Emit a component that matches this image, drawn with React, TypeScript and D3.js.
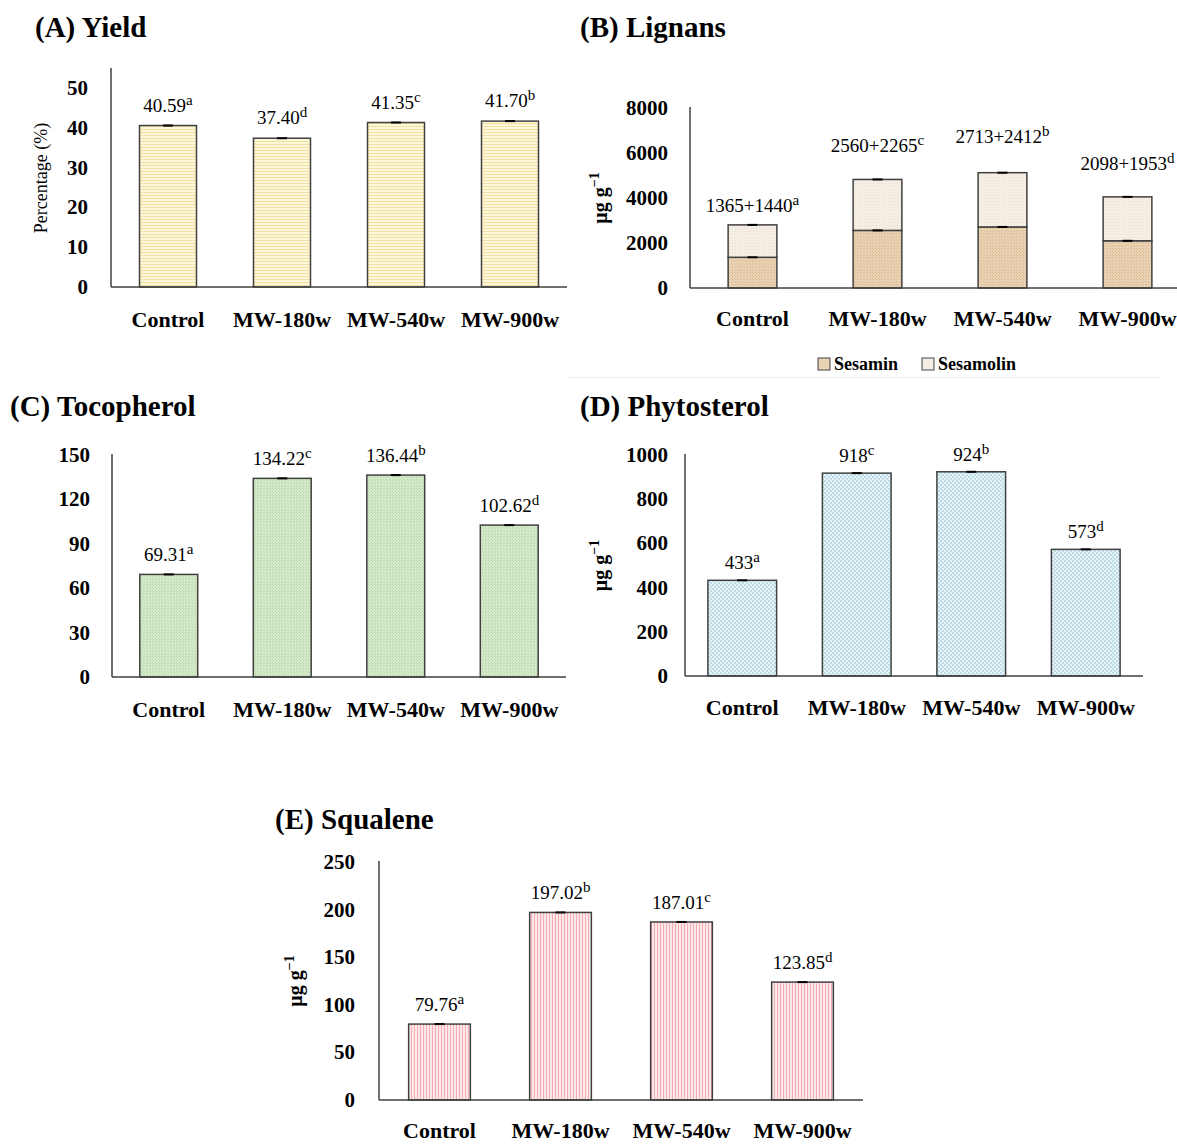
import React from 'react'
import * as d3 from 'd3'

const CATEGORIES = ['Control', 'MW-180w', 'MW-540w', 'MW-900w']

const YIELD_VALUES = [40.59, 37.4, 41.35, 41.7]
const YIELD_LETTERS = ['a', 'd', 'c', 'b']
const YIELD_TICKS = [0, 10, 20, 30, 40, 50]

const SESAMIN_VALUES = [1365, 2560, 2713, 2098]
const SESAMOLIN_VALUES = [1440, 2265, 2412, 1953]
const LIGNAN_LETTERS = ['a', 'c', 'b', 'd']
const LIGNAN_TICKS = [0, 2000, 4000, 6000, 8000]
const LIGNAN_SERIES = ['Sesamin', 'Sesamolin']

const TOCOPHEROL_VALUES = [69.31, 134.22, 136.44, 102.62]
const TOCOPHEROL_LETTERS = ['a', 'c', 'b', 'd']
const TOCOPHEROL_TICKS = [0, 30, 60, 90, 120, 150]

const PHYTOSTEROL_VALUES = [433, 918, 924, 573]
const PHYTOSTEROL_LETTERS = ['a', 'c', 'b', 'd']
const PHYTOSTEROL_TICKS = [0, 200, 400, 600, 800, 1000]

const SQUALENE_VALUES = [79.76, 197.02, 187.01, 123.85]
const SQUALENE_LETTERS = ['a', 'b', 'c', 'd']
const SQUALENE_TICKS = [0, 50, 100, 150, 200, 250]

const SERIF = '"Liberation Serif", "Times New Roman", serif'
const AXIS = '#404040'

const fmt2 = (v) => v.toFixed(2)
const fmt0 = (v) => String(v)

// one panel: title, y axis, bars (stacked if several series)
function Panel({ title, titleX, titleY, x0, x1, yTop, yBase, yMax, ticks, series, fills, letters,
  format, barFrac, yLabel, yLabelX, yLabelBold, tickRight, catY, labelLift = () => 13 }) {
  const xScale = d3.scaleBand()
    .domain(CATEGORIES)
    .range([x0, x1])
    .paddingInner(1 - barFrac)
    .paddingOuter((1 - barFrac) / 2)
  const yScale = d3.scaleLinear().domain([0, yMax]).range([yBase, yTop])
  const stack = d3.stack().keys(series.map((_, i) => String(i)))
  const rows = CATEGORIES.map((c, j) => {
    const r = {}
    series.forEach((s, i) => { r[String(i)] = s[j] })
    return r
  })
  const layers = stack(rows)
  const bw = xScale.bandwidth()
  const yMid = (yTop + yBase) / 2

  return (
    <g>
      <text x={titleX} y={titleY} fontFamily={SERIF} fontWeight="bold" fontSize={29}>{title}</text>
      {yLabel === 'pct' ? (
        <text transform={`translate(${yLabelX},${yMid}) rotate(-90)`} textAnchor="middle"
          fontFamily={SERIF} fontSize={18}>Percentage (%)</text>
      ) : yLabel === 'ug' ? (
        <text transform={`translate(${yLabelX},${yMid}) rotate(-90)`} textAnchor="middle"
          fontFamily={SERIF} fontSize={20} fontWeight={yLabelBold ? 'bold' : 'normal'}>
          μg g<tspan dy={-8} fontSize={14}>−1</tspan>
        </text>
      ) : null}
      {ticks.map((t) => (
        <text key={t} x={tickRight} y={yScale(t) + 7} textAnchor="end" fontFamily={SERIF}
          fontWeight="bold" fontSize={21}>{t}</text>
      ))}
      {layers.map((layer, li) => layer.map((d, j) => (
        <rect key={`${li}-${j}`} x={xScale(CATEGORIES[j])} y={yScale(d[1])} width={bw}
          height={yScale(d[0]) - yScale(d[1])} fill={fills[li]} stroke={AXIS} strokeWidth={1.5} />
      )))}
      {layers.map((layer, li) => layer.map((d, j) => (
        <line key={`e${li}-${j}`} x1={xScale(CATEGORIES[j]) + bw / 2 - 5} x2={xScale(CATEGORIES[j]) + bw / 2 + 5}
          y1={yScale(d[1])} y2={yScale(d[1])} stroke="#000" strokeWidth={2} />
      )))}
      {CATEGORIES.map((c, j) => {
        const total = d3.sum(series, (s) => s[j])
        const text = series.map((s) => format(s[j])).join('+')
        return (
          <text key={c} x={xScale(c) + bw / 2} y={yScale(total) - labelLift(j)} textAnchor="middle"
            fontFamily={SERIF} fontSize={19}>
            {text}<tspan dy={-7} fontSize={15}>{letters[j]}</tspan>
          </text>
        )
      })}
      <line x1={x0} x2={x0} y1={yTop - 1} y2={yBase} stroke={AXIS} strokeWidth={1.5} />
      <line x1={x0} x2={x1} y1={yBase} y2={yBase} stroke={AXIS} strokeWidth={1.5} />
      {CATEGORIES.map((c) => (
        <text key={c} x={xScale(c) + bw / 2} y={catY} textAnchor="middle" fontFamily={SERIF}
          fontWeight="bold" fontSize={22}>{c}</text>
      ))}
    </g>
  )
}

export default function App() {
  const lignanLift = [13, 27, 30, 27]
  return (
    <svg width={1177} height={1144} style={{ display: 'block', position: 'absolute', left: 0, top: 0 }}>
      <defs>
        <pattern id="pYellow" width={4} height={3} patternUnits="userSpaceOnUse">
          <rect width={4} height={3} fill="#fdf6d9" />
          <rect width={4} height={1} fill="#f2e2a2" />
        </pattern>
        <pattern id="pSesamin" width={3} height={3} patternUnits="userSpaceOnUse">
          <rect width={3} height={3} fill="#e9d3b3" />
          <rect width={1} height={1} fill="#d8bb92" />
          <rect x={2} y={2} width={1} height={1} fill="#d8bb92" />
        </pattern>
        <pattern id="pSesamolin" width={3} height={3} patternUnits="userSpaceOnUse">
          <rect width={3} height={3} fill="#f5eee5" />
          <rect width={1} height={1} fill="#ebdfcf" />
        </pattern>
        <pattern id="pGreen" width={3} height={3} patternUnits="userSpaceOnUse">
          <rect width={3} height={3} fill="#d4eacb" />
          <rect width={1} height={1} fill="#b6d6a7" />
          <rect x={2} y={2} width={1} height={1} fill="#b6d6a7" />
        </pattern>
        <pattern id="pBlue" width={4} height={4} patternUnits="userSpaceOnUse">
          <rect width={4} height={4} fill="#e8f4f7" />
          <rect width={2} height={2} fill="#bcdde7" />
          <rect x={2} y={2} width={2} height={2} fill="#bcdde7" />
        </pattern>
        <pattern id="pPink" width={3} height={4} patternUnits="userSpaceOnUse">
          <rect width={3} height={4} fill="#fde8ea" />
          <rect width={1} height={4} fill="#f3adb3" />
        </pattern>
      </defs>
      <rect width={1177} height={1144} fill="#fff" />

      <Panel title="(A) Yield" titleX={35} titleY={37} x0={111} x1={567} yTop={69} yBase={287}
        yMax={54.8} ticks={YIELD_TICKS} series={[YIELD_VALUES]} fills={['url(#pYellow)']}
        letters={YIELD_LETTERS} format={fmt2} barFrac={0.5} yLabel="pct" yLabelX={47}
        tickRight={88} catY={327} labelLift={() => 14} />

      <Panel title="(B) Lignans" titleX={580} titleY={37} x0={690} x1={1190} yTop={108} yBase={288}
        yMax={8000} ticks={LIGNAN_TICKS} series={[SESAMIN_VALUES, SESAMOLIN_VALUES]}
        fills={['url(#pSesamin)', 'url(#pSesamolin)']} letters={LIGNAN_LETTERS} format={fmt0}
        barFrac={0.39} yLabel="ug" yLabelX={607} yLabelBold tickRight={668} catY={326}
        labelLift={(j) => lignanLift[j]} />

      {LIGNAN_SERIES.map((s, i) => {
        const lx = d3.scalePoint().domain(LIGNAN_SERIES).range([818, 922])(s)
        return (
          <g key={s}>
            <rect x={lx} y={358} width={12} height={12} fill={i === 0 ? '#e9d3b3' : '#f5eee5'}
              stroke={AXIS} strokeWidth={1} />
            <text x={lx + 16} y={370} fontFamily={SERIF} fontWeight="bold" fontSize={18}>{s}</text>
          </g>
        )
      })}
      <line x1={567} x2={1160} y1={377.5} y2={377.5} stroke="#ececec" strokeWidth={1} />

      <Panel title="(C) Tocopherol" titleX={10} titleY={416} x0={112} x1={566} yTop={455} yBase={677}
        yMax={150} ticks={TOCOPHEROL_TICKS} series={[TOCOPHEROL_VALUES]} fills={['url(#pGreen)']}
        letters={TOCOPHEROL_LETTERS} format={fmt2} barFrac={0.51} yLabel={null}
        tickRight={90} catY={717} />

      <Panel title="(D) Phytosterol" titleX={580} titleY={416} x0={685} x1={1143} yTop={455} yBase={676}
        yMax={1000} ticks={PHYTOSTEROL_TICKS} series={[PHYTOSTEROL_VALUES]} fills={['url(#pBlue)']}
        letters={PHYTOSTEROL_LETTERS} format={fmt0} barFrac={0.6} yLabel="ug" yLabelX={607} yLabelBold
        tickRight={668} catY={715} labelLift={() => 11} />

      <Panel title="(E) Squalene" titleX={275} titleY={829} x0={379} x1={863} yTop={862} yBase={1100}
        yMax={250} ticks={SQUALENE_TICKS} series={[SQUALENE_VALUES]} fills={['url(#pPink)']}
        letters={SQUALENE_LETTERS} format={fmt2} barFrac={0.51} yLabel="ug" yLabelX={302} yLabelBold
        tickRight={355} catY={1138} />
    </svg>
  )
}
